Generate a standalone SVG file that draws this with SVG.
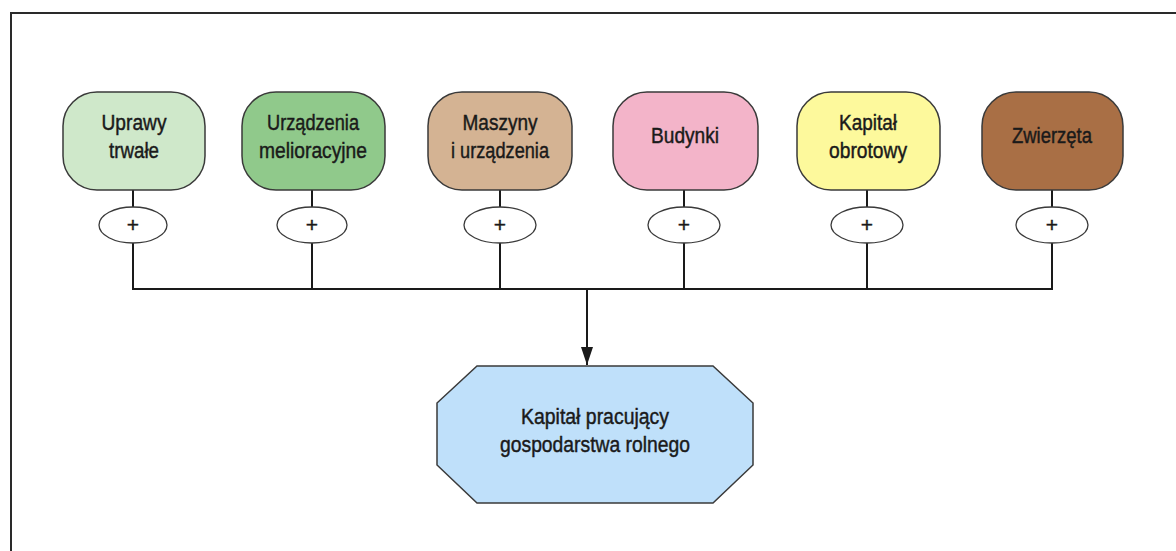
<svg xmlns="http://www.w3.org/2000/svg" width="1176" height="551" viewBox="0 0 1176 551">
<defs>
<style>
.node{stroke:#3a3a3a;stroke-width:1.5}
.lbl{font-family:"Liberation Sans","DejaVu Sans",sans-serif;font-size:22.5px;fill:#1a1a1a;stroke:#1a1a1a;stroke-width:0.45;text-anchor:middle}
.plus{font-family:"Liberation Sans","DejaVu Sans",sans-serif;font-size:21px;fill:#1a1a1a;stroke:#1a1a1a;stroke-width:0.4;text-anchor:middle}
.op{fill:#fff;stroke:#3a3a3a;stroke-width:1.3}
.wire{stroke:#1a1a1a;stroke-width:2;fill:none}
</style>
<marker id="arr" viewBox="0 0 10 10" refX="10" refY="5" markerWidth="18" markerHeight="12" markerUnits="userSpaceOnUse" orient="auto" preserveAspectRatio="none">
<path d="M0,0 L10,5 L0,10 z" fill="#1a1a1a"/>
</marker>
</defs>
<rect x="0" y="0" width="1176" height="551" fill="#fff"/>
<rect x="11" y="13" width="1180" height="560" fill="none" stroke="#2a2a2a" stroke-width="2"/>

<g id="connectors">
<path class="wire" d="M133,190 V207 M133,243 V289"/>
<path class="wire" d="M312,190 V207 M312,243 V289"/>
<path class="wire" d="M500,190 V207 M500,243 V289"/>
<path class="wire" d="M684,190 V207 M684,243 V289"/>
<path class="wire" d="M867,190 V207 M867,243 V289"/>
<path class="wire" d="M1052,190 V207 M1052,243 V289"/>
<path class="wire" d="M132,289 H1053" stroke-width="2.5"/>
<path class="wire" d="M587,289 V365" marker-end="url(#arr)"/>
</g>

<g id="n1">
<rect class="node" x="63" y="92" width="142" height="98" rx="34" fill="#cfe8ca"/>
<text class="lbl" x="134" y="130" textLength="65" lengthAdjust="spacingAndGlyphs">Uprawy</text>
<text class="lbl" x="134" y="158" textLength="50" lengthAdjust="spacingAndGlyphs">trwałe</text>
</g>
<g id="n2">
<rect class="node" x="242" y="92" width="143" height="98" rx="34" fill="#90c98b"/>
<text class="lbl" x="313" y="130" textLength="92" lengthAdjust="spacingAndGlyphs">Urządzenia</text>
<text class="lbl" x="313" y="158" textLength="108" lengthAdjust="spacingAndGlyphs">melioracyjne</text>
</g>
<g id="n3">
<rect class="node" x="428" y="92" width="144" height="98" rx="34" fill="#d4b393"/>
<text class="lbl" x="500" y="130" textLength="75" lengthAdjust="spacingAndGlyphs">Maszyny</text>
<text class="lbl" x="500" y="158" textLength="98" lengthAdjust="spacingAndGlyphs">i urządzenia</text>
</g>
<g id="n4">
<rect class="node" x="613" y="92" width="145" height="98" rx="34" fill="#f3b4c9"/>
<text class="lbl" x="685" y="143" textLength="68" lengthAdjust="spacingAndGlyphs">Budynki</text>
</g>
<g id="n5">
<rect class="node" x="797" y="92" width="143" height="98" rx="34" fill="#fdf99c"/>
<text class="lbl" x="868" y="130" textLength="58" lengthAdjust="spacingAndGlyphs">Kapitał</text>
<text class="lbl" x="868" y="158" textLength="78" lengthAdjust="spacingAndGlyphs">obrotowy</text>
</g>
<g id="n6">
<rect class="node" x="982" y="92" width="141" height="98" rx="34" fill="#a96f45"/>
<text class="lbl" x="1052" y="143" textLength="80" lengthAdjust="spacingAndGlyphs">Zwierzęta</text>
</g>

<g id="ops">
<g id="op1"><ellipse class="op" cx="133" cy="225" rx="34" ry="18"/><text class="plus" x="133" y="232">+</text></g>
<g id="op2"><ellipse class="op" cx="312" cy="225" rx="35" ry="18"/><text class="plus" x="312" y="232">+</text></g>
<g id="op3"><ellipse class="op" cx="500" cy="225" rx="36" ry="18"/><text class="plus" x="500" y="232">+</text></g>
<g id="op4"><ellipse class="op" cx="684" cy="225" rx="36" ry="18"/><text class="plus" x="684" y="232">+</text></g>
<g id="op5"><ellipse class="op" cx="867" cy="225" rx="36" ry="18"/><text class="plus" x="867" y="232">+</text></g>
<g id="op6"><ellipse class="op" cx="1052" cy="225" rx="36" ry="18"/><text class="plus" x="1052" y="232">+</text></g>
</g>

<g id="result">
<polygon class="node" points="477,366 713,366 753,403 753,465 713,503 477,503 437,465 437,403" fill="#bfe0fa"/>
<text class="lbl" x="595" y="424" textLength="148" lengthAdjust="spacingAndGlyphs">Kapitał pracujący</text>
<text class="lbl" x="595" y="452" textLength="190" lengthAdjust="spacingAndGlyphs">gospodarstwa rolnego</text>
</g>
</svg>
